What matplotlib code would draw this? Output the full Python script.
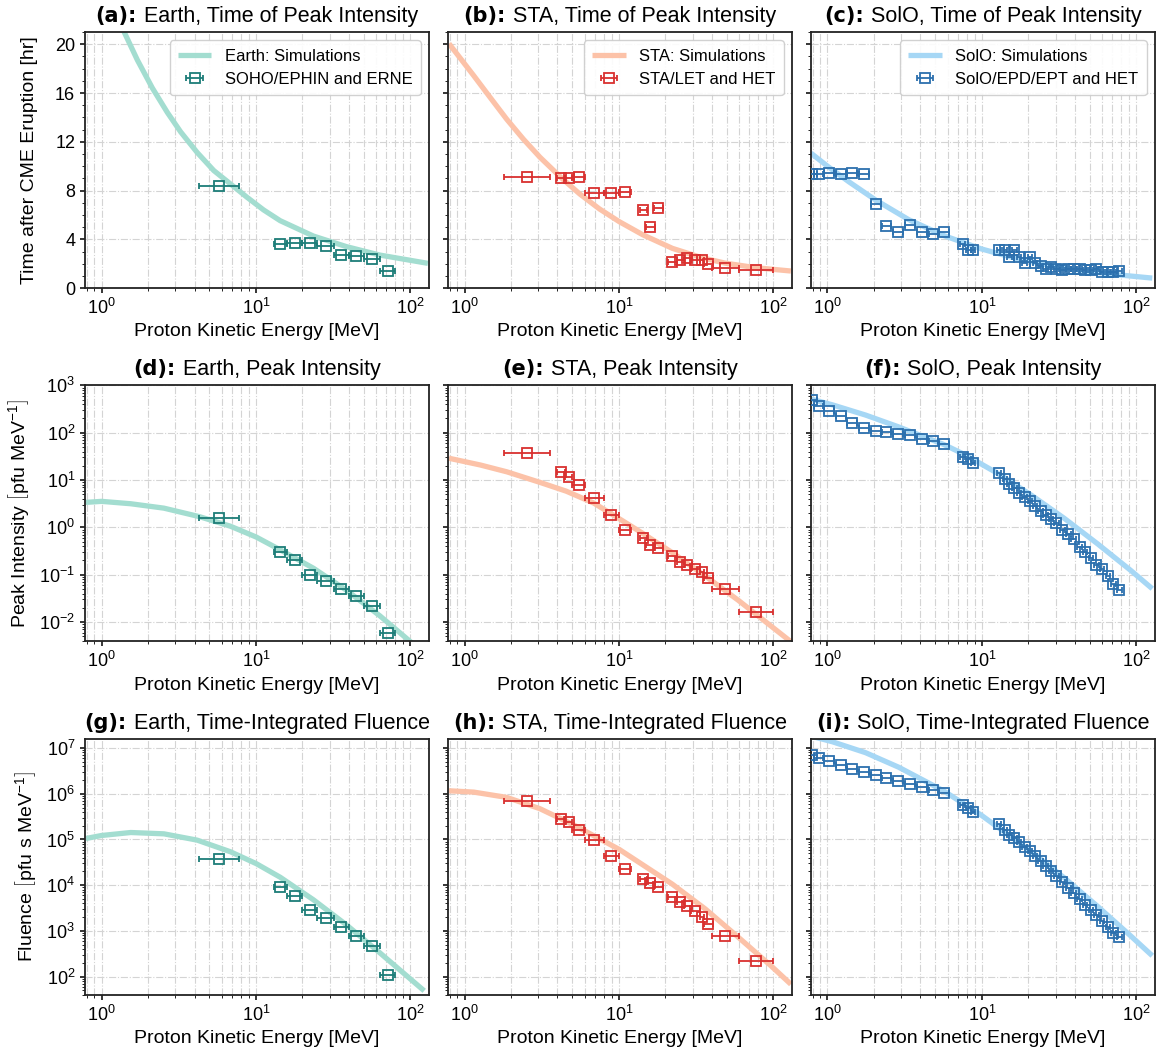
import matplotlib
matplotlib.use("Agg")
import matplotlib.pyplot as plt
from matplotlib.offsetbox import TextArea, HPacker, AnchoredOffsetbox
import numpy as np

plt.rcParams['font.family'] = ['Liberation Sans', 'DejaVu Sans']
plt.rcParams['mathtext.fontset'] = 'custom'
plt.rcParams['mathtext.rm'] = 'Liberation Sans'
plt.rcParams['mathtext.it'] = 'Liberation Sans:italic'
plt.rcParams['mathtext.bf'] = 'Liberation Sans:bold'

# ---------------- observations ----------------
# Earth: SOHO/EPHIN and ERNE
earth_e = [5.8, 14.4, 17.9, 22.4, 28.3, 35.8, 44.7, 56.6, 71.6]
earth_lo = [4.3, 13, 16, 20, 25, 32, 40, 50, 64]
earth_hi = [7.8, 16, 20, 25, 32, 40, 50, 64, 80]
earth_t = [8.36, 3.62, 3.70, 3.73, 3.48, 2.71, 2.60, 2.41, 1.42]
earth_i = [1.55, 0.297, 0.203, 0.101, 0.073, 0.050, 0.0358, 0.0218, 0.00582]
earth_f = [3.67e4, 8.9e3, 5.86e3, 2.86e3, 1.92e3, 1.20e3, 792, 465, 107]

# STA: LET and HET
sta_e = [2.55, 4.24, 4.77, 5.51, 6.87, 8.93, 10.9, 14.3, 15.8, 17.9, 22.1, 25.0,
         27.6, 30.9, 34.5, 37.7, 48.7, 77.4]
sta_lo = [1.8, 4.0, 4.5, 5.0, 6.0, 8.0, 10.0, 13.6, 14.9, 17.0, 20.8, 23.8,
          26.3, 29.5, 33.4, 35.5, 40.0, 60.0]
sta_hi = [3.6, 4.5, 5.0, 6.0, 8.0, 10.0, 12.0, 15.1, 17.1, 19.3, 23.8, 26.4,
          29.7, 33.4, 35.8, 40.5, 60.0, 100.0]
sta_t = [9.12, 9.01, 9.01, 9.12, 7.78, 7.78, 7.86, 6.44, 5.01, 6.60, 2.16, 2.30,
         2.49, 2.30, 2.27, 2.00, 1.67, 1.45]
sta_i = [37.7, 14.5, 11.7, 7.7, 4.19, 1.86, 0.885, 0.605, 0.435, 0.375, 0.248, 0.187,
         0.161, 0.134, 0.114, 0.086, 0.0507, 0.0165]
sta_f = [6.81e5, 2.86e5, 2.42e5, 1.62e5, 9.5e4, 4.42e4, 2.23e4, 1.37e4, 1.14e4, 9.2e3,
         5.58e3, 4.2e3, 3.43e3, 2.68e3, 2.05e3, 1.44e3, 766, 223]

# SolO: EPD/EPT and HET
solo_e = [0.79, 0.875, 1.025, 1.22, 1.45, 1.72, 2.05, 2.41, 2.86, 3.44, 4.09, 4.86, 5.69,
          7.51, 8.17, 8.75, 12.9, 14.1, 15.1, 16.2, 17.4, 18.9, 20.5, 22.1, 24.0, 25.9,
          28.1, 30.4, 33.2, 36.3, 39.3, 43.0, 46.5, 50.8, 55.2, 60.1, 65.7, 71.1, 77.8]
solo_dex = [0.032] * 13 + [0.015] * 26
solo_t = [9.37, 9.37, 9.45, 9.37, 9.45, 9.37, 6.88, 5.10, 4.60, 5.15, 4.60, 4.44, 4.60,
          3.59, 3.12, 3.12, 3.12, 3.12, 2.52, 3.12, 2.52, 2.05, 2.52, 2.05, 1.84, 1.56,
          1.70, 1.56, 1.48, 1.56, 1.56, 1.56, 1.51, 1.51, 1.59, 1.29, 1.29, 1.29, 1.37]
solo_i = [480, 375, 293, 221, 164, 128, 110, 105, 92, 89, 75.5, 66.2, 58,
          31.4, 28, 23, 13.8, 10.4, 8.1, 6.76, 5.36, 4.40, 3.55, 2.77, 2.23, 1.83,
          1.48, 1.21, 0.90, 0.71, 0.557, 0.394, 0.297, 0.221, 0.158, 0.130, 0.0935, 0.065, 0.0474]
solo_f = [6.9e6, 6.05e6, 5.13e6, 4.2e6, 3.55e6, 3.0e6, 2.63e6, 2.26e6, 1.95e6, 1.62e6,
          1.44e6, 1.2e6, 1.05e6, 5.7e5, 4.97e5, 3.93e5, 2.19e5, 1.62e5, 1.26e5, 1.07e5,
          8.75e4, 6.7e4, 5.48e4, 4.27e4, 3.32e4, 2.59e4, 2.01e4, 1.57e4, 1.16e4, 8.75e3,
          6.8e3, 4.88e3, 3.67e3, 2.81e3, 2.23e3, 1.65e3, 1.22e3, 920, 741]

# ---------------- simulations ----------------
sim_earth_t_e = [1.2, 1.40, 1.707, 2.133, 2.666, 3.25, 4.163, 5.333, 6.83, 8.75, 11.21,
                 14.35, 23.55, 38.6, 63.4, 130]
sim_earth_t = [22.7, 21.01, 18.70, 16.41, 14.41, 12.82, 11.12, 9.64, 8.55, 7.45, 6.41,
               5.53, 4.27, 3.40, 2.71, 2.03]
sim_sta_t_e = [0.793, 0.943, 1.148, 1.469, 1.879, 2.404, 3.076, 4.241, 5.563, 7.488,
               10.05, 14.25, 22.2, 34.5, 48.7, 77.3, 130]
sim_sta_t = [20.05, 18.82, 17.42, 15.62, 13.84, 12.22, 10.74, 9.04, 7.73, 6.49,
             5.45, 4.38, 3.26, 2.49, 2.05, 1.67, 1.40]
sim_solo_t_e = [0.781, 1.0, 1.379, 2.047, 3.35, 5.69, 9.94, 16.3, 26.7, 43.6, 71.8, 127]
sim_solo_t = [11.07, 10.0, 8.71, 7.23, 5.62, 4.30, 3.21, 2.47, 1.89, 1.45, 1.12, 0.82]

sim_earth_i_e = [0.792, 1.0, 1.546, 2.536, 4.31, 6.83, 10.05, 14.35, 23.55, 38.6, 63.4, 112]
sim_earth_i = [3.38, 3.55, 3.16, 2.55, 1.686, 1.061, 0.625, 0.336, 0.1375, 0.047, 0.0136, 0.00283]
sim_sta_i_e = [0.793, 1.267, 1.879, 3.076, 4.56, 6.87, 10.05, 14.25, 22.2, 37.6, 59.3, 130]
sim_sta_i = [28.9, 20.8, 14.94, 8.95, 5.82, 3.27, 1.527, 0.750, 0.292, 0.086, 0.0289, 0.00385]
sim_solo_i_e = [0.781, 1.077, 1.766, 2.896, 5.69, 7.78, 12.7, 20.8, 34.2, 56.2, 92.0, 127]
sim_solo_i = [514, 388, 236, 132.5, 56.1, 34.2, 13.76, 4.86, 1.553, 0.449, 0.1238, 0.0507]

sim_earth_f_e = [0.792, 1.0, 1.546, 2.536, 4.163, 6.83, 10.05, 14.35, 23.55, 38.6, 63.4, 123]
sim_earth_f = [1.051e5, 1.222e5, 1.42e5, 1.328e5, 9.67e4, 5.39e4, 2.958e4, 1.493e4,
               4.80e3, 1.35e3, 332, 48.8]
sim_sta_f_e = [0.793, 1.148, 1.879, 3.076, 5.04, 10.05, 22.2, 36.3, 59.3, 96.9, 130]
sim_sta_f = [1.162e6, 1.087e6, 8.32e5, 4.72e5, 2.12e5, 6.06e4, 1.051e4, 3.01e3, 728, 170.5, 68.1]
sim_solo_f_e = [0.781, 1.077, 1.766, 2.896, 5.69, 9.94, 20.8, 34.2, 56.2, 92.0, 127]
sim_solo_f = [1.824e7, 1.373e7, 7.92e6, 3.80e6, 1.143e6, 3.38e5, 5.48e4, 1.443e4, 3.44e3, 778, 286]

# colours
c_earth_line, c_earth_pt = '#a3ddd0', '#1d7d78'
c_sta_line, c_sta_pt = '#fcc2a8', '#d9302f'
c_solo_line, c_solo_pt = '#a6d7f5', '#2c70ae'

fig, axes = plt.subplots(3, 3, figsize=(11.63, 10.51), dpi=100)
fig.subplots_adjust(left=0.073, right=0.993, top=0.9695, bottom=0.0535,
                    wspace=0.055, hspace=0.38)

def xerr_of(e, lo, hi):
    e = np.asarray(e)
    return [e - np.asarray(lo), np.asarray(hi) - e]

earth_xerr = xerr_of(earth_e, earth_lo, earth_hi)
sta_xerr = xerr_of(sta_e, sta_lo, sta_hi)
solo_e_arr = np.asarray(solo_e)
solo_xerr = [solo_e_arr - solo_e_arr / 10 ** np.asarray(solo_dex),
             solo_e_arr * 10 ** np.asarray(solo_dex) - solo_e_arr]

columns = [
    ('Earth', c_earth_line, c_earth_pt, 'SOHO/EPHIN and ERNE', earth_e, earth_xerr,
     [earth_t, earth_i, earth_f],
     [(sim_earth_t_e, sim_earth_t), (sim_earth_i_e, sim_earth_i), (sim_earth_f_e, sim_earth_f)]),
    ('STA', c_sta_line, c_sta_pt, 'STA/LET and HET', sta_e, sta_xerr,
     [sta_t, sta_i, sta_f],
     [(sim_sta_t_e, sim_sta_t), (sim_sta_i_e, sim_sta_i), (sim_sta_f_e, sim_sta_f)]),
    ('SolO', c_solo_line, c_solo_pt, 'SolO/EPD/EPT and HET', solo_e, solo_xerr,
     [solo_t, solo_i, solo_f],
     [(sim_solo_t_e, sim_solo_t), (sim_solo_i_e, sim_solo_i), (sim_solo_f_e, sim_solo_f)]),
]
row_titles = ['Time of Peak Intensity', 'Peak Intensity', 'Time-Integrated Fluence']
row_ylabels = ['Time after CME Eruption [hr]',
               r'Peak Intensity $\left[\mathrm{pfu\ MeV^{-1}}\right]$',
               r'Fluence $\left[\mathrm{pfu\ s\ MeV^{-1}}\right]$']
row_ylims = [(0, 21), (3.9e-3, 1e3), (40, 1.6e7)]
row_labelpad = [12, 6, 6]
letters = 'abcdefghi'

for col, (name, cl, cp, obs_label, e, xerr, obs, sims) in enumerate(columns):
    for row in range(3):
        ax = axes[row, col]
        se, sv = sims[row]
        ax.plot(se, sv, color=cl, lw=3.8, solid_capstyle='butt', zorder=2,
                label=f'{name}: Simulations')
        ax.errorbar(e, obs[row], xerr=xerr, fmt='s', ms=6.6, mfc='none', mec=cp,
                    mew=1.3, ecolor=cp, elinewidth=1.3, capsize=2.5, capthick=1.3,
                    zorder=3, label=obs_label)
        ax.set_xscale('log')
        ax.set_xlim(0.78, 132)
        if row > 0:
            ax.set_yscale('log')
        else:
            ax.set_yticks([0, 4, 8, 12, 16, 20])
            ax.yaxis.set_minor_locator(matplotlib.ticker.MultipleLocator(1))
        ax.set_ylim(*row_ylims[row])
        if col > 0:
            ax.set_yticklabels([])
        else:
            ax.set_ylabel(row_ylabels[row], fontsize=14, labelpad=row_labelpad[row])
        ax.set_xlabel('Proton Kinetic Energy [MeV]', fontsize=14)

        # panel title: heavy letter tag + regular text
        tag = TextArea(f'({letters[row * 3 + col]}):',
                       textprops=dict(fontsize=15, fontweight='bold', family='DejaVu Sans'))
        txt = TextArea(f'{name}, {row_titles[row]}', textprops=dict(fontsize=15.5))
        box = HPacker(children=[tag, txt], align='baseline', pad=0, sep=5)
        anchored = AnchoredOffsetbox(loc='lower center', child=box, pad=0, borderpad=0,
                                     frameon=False, bbox_to_anchor=(0.5, 1.02),
                                     bbox_transform=ax.transAxes)
        ax.add_artist(anchored)

        ax.grid(which='major', ls='-.', color='#d4d4d4', lw=0.8)
        ax.grid(which='minor', axis='x', ls='-.', color='#d4d4d4', lw=0.8)
        ax.tick_params(labelsize=13, width=1.1)
        for s in ax.spines.values():
            s.set_linewidth(1.3)
            s.set_color('#222222')
        if row == 0:
            ax.legend(loc='upper right', fontsize=12, framealpha=0.9,
                      edgecolor='#cccccc', handlelength=2.0, borderpad=0.5)

fig.savefig('out.png', dpi=100)
